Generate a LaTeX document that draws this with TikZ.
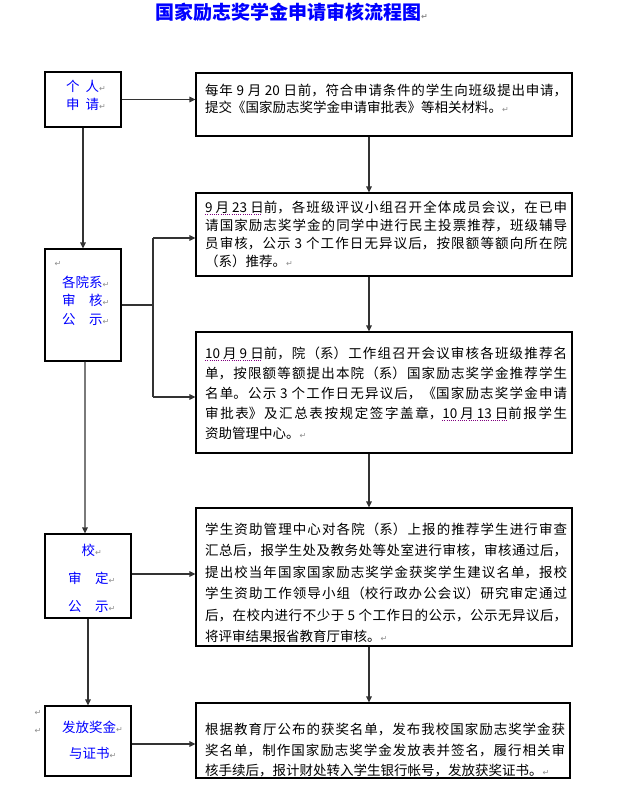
\documentclass[tikz,border=0pt]{standalone}
\usepackage{fontspec}
\setmainfont{Noto Sans CJK SC}
\newfontfamily\markfont{DejaVu Sans}
\usetikzlibrary{positioning, arrows.meta}

\XeTeXlinebreaklocale "zh"
\XeTeXlinebreakskip=0pt plus 2pt

\newcommand{\retmark}{{\markfont\fontsize{8bp}{8bp}\selectfont\color{black!45}↵}}
\newsavebox{\datebox}
\newcommand{\dateul}[1]{\sbox{\datebox}{#1}\rlap{\lower2.2bp\hbox to \wd\datebox{\color{violet}\leaders\hbox{\rule{0.8bp}{0.6bp}\kern1.4bp}\hfill}}\usebox{\datebox}}

\begin{document}
\begin{tikzpicture}[
    x=1bp, y=-1bp,
    >={Triangle[length=6bp, width=5.5bp]},
    stepbox/.style={rectangle, draw=black, line width=1.1bp, inner sep=0pt},
    sidebox/.style={rectangle, draw=black, line width=1.1bp, inner sep=0pt},
    steptext/.style={inner sep=0pt, anchor=north west, text width=362bp, align=justify},
    sidetext/.style={inner sep=0pt, anchor=north west, align=left, text=blue},
    stray/.style={inner sep=0pt},
    connection/.style={->, line width=1.1bp, draw=black!80},
    wire/.style={line width=1.1bp, draw=black!80}
]

\fill[white] (0,0) rectangle (622,801);
\useasboundingbox (0,0) rectangle (622,801);

% Title
\node[anchor=west, inner sep=0pt, text=blue, font=\bfseries\fontsize{19bp}{19bp}\selectfont] (title) at (155,12) {国家励志奖学金申请审核流程图\retmark};

% Left column
\node[sidebox, minimum width=76bp, minimum height=55bp] (A) at (83,99.5) {};
\node[sidebox, minimum width=76bp, minimum height=112bp] (B) at (83,305) {};
\node[sidebox, minimum width=86bp, minimum height=84bp] (C) at (88,576) {};
\node[sidebox, minimum width=86bp, minimum height=70bp] (D) at (88,741) {};

% Left column labels
\node[sidetext, font=\fontsize{13.5bp}{18bp}\selectfont] (lA) at (66,79.5) {个\hspace*{6bp}人\retmark\\申\hspace*{6bp}请\retmark};
\node[stray] (mB) at (58,264) {\retmark};
\node[sidetext, font=\fontsize{13.5bp}{18.5bp}\selectfont] (lB) at (62,275.5) {各院系\retmark\\审　核\retmark\\公　示\retmark};
\node[sidetext, font=\fontsize{13.5bp}{28bp}\selectfont] (lC) at (68,543.5) {　校\retmark\\审　定\retmark\\公　示\retmark};
\node[sidetext, font=\fontsize{13.5bp}{26bp}\selectfont] (lD) at (62,720.5) {发放奖金\retmark\\\hspace*{7bp}与证书\retmark};
\node[stray] (mD1) at (38,713) {\retmark};
\node[stray] (mD2) at (38,731) {\retmark};

% Right column
\node[stepbox, minimum width=376bp, minimum height=63bp] (s1) at (384,104.5) {};
\node[stepbox, minimum width=376bp, minimum height=83bp] (s2) at (384,234.5) {};
\node[stepbox, minimum width=376bp, minimum height=121bp] (s3) at (384,392.5) {};
\node[stepbox, minimum width=376bp, minimum height=138bp] (s4) at (384,577) {};
\node[stepbox, minimum width=374bp, minimum height=75bp] (s5) at (383,740.5) {};

% Step texts
\node[steptext, font=\fontsize{13.5bp}{17bp}\selectfont] (t1) at (205,83.5) {每年 9 月 20 日前，符合申请条件的学生向班级提出申请，\linebreak
提交《国家励志奖学金申请审批表》等相关材料。\retmark};
\node[steptext, font=\fontsize{13.5bp}{18bp}\selectfont] (t2) at (205,200.5) {\dateul{9 月 23 日}前，各班级评议小组召开全体成员会议，在已申\linebreak
请国家励志奖学金的同学中进行民主投票推荐，班级辅导\linebreak
员审核，公示 3 个工作日无异议后，按限额等额向所在院\linebreak
（系）推荐。\retmark};
\node[steptext, font=\fontsize{13.5bp}{20bp}\selectfont] (t3) at (205,347) {\dateul{10 月 9 日}前，院（系）工作组召开会议审核各班级推荐名\linebreak
单，按限额等额提出本院（系）国家励志奖学金推荐学生\linebreak
名单。公示 3 个工作日无异议后，《国家励志奖学金申请\linebreak
审批表》及汇总表按规定签字盖章，\dateul{10 月 13 日}前报学生\linebreak
资助管理中心。\retmark};
\node[steptext, font=\fontsize{13.5bp}{21.5bp}\selectfont] (t4) at (205,522.5) {学生资助管理中心对各院（系）上报的推荐学生进行审查\linebreak
汇总后，报学生处及教务处等处室进行审核，审核通过后，\linebreak
提出校当年国家国家励志奖学金获奖学生建议名单，报校\linebreak
学生资助工作领导小组（校行政办公会议）研究审定通过\linebreak
后，在校内进行不少于 5 个工作日的公示，公示无异议后，\linebreak
将评审结果报省教育厅审核。\retmark};
\node[steptext, text width=360bp, font=\fontsize{13.5bp}{20.5bp}\selectfont] (t5) at (205,723) {根据教育厅公布的获奖名单，发布我校国家励志奖学金获\linebreak
奖名单，制作国家励志奖学金发放表并签名，履行相关审\linebreak
核手续后，报计财处转入学生银行帐号，发放获奖证书。\retmark};

% Junctions
\coordinate (col) at (369,0);
\coordinate (j2) at (153,238);
\coordinate (j3) at (153,397);

% Left column connections
\draw[connection] (A.south) -- (B.north);
\draw[connection] ([xshift=2bp]B.south) -- ([xshift=-3bp]C.north);
\draw[connection] (C.south) -- (D.north);

% Left to right connections
\draw[connection] (A.east) -- (A.east -| s1.west);
\draw[wire] (B.east) -- (B.east -| j2);
\draw[wire] (j2) -- (j3);
\draw[connection] (j2) -- (j2 -| s2.west);
\draw[connection] (j3) -- (j3 -| s3.west);
\draw[connection] ([yshift=2bp]C.east) -- ([yshift=2bp]C.east -| s4.west);
\draw[connection] ([yshift=-3bp]D.east) -- ([yshift=-3bp]D.east -| s5.west);

% Right column connections
\foreach \a/\b in {s1/s2, s2/s3, s3/s4, s4/s5} {
    \draw[connection] (\a.south -| col) -- (\b.north -| col);
}

\end{tikzpicture}
\end{document}
